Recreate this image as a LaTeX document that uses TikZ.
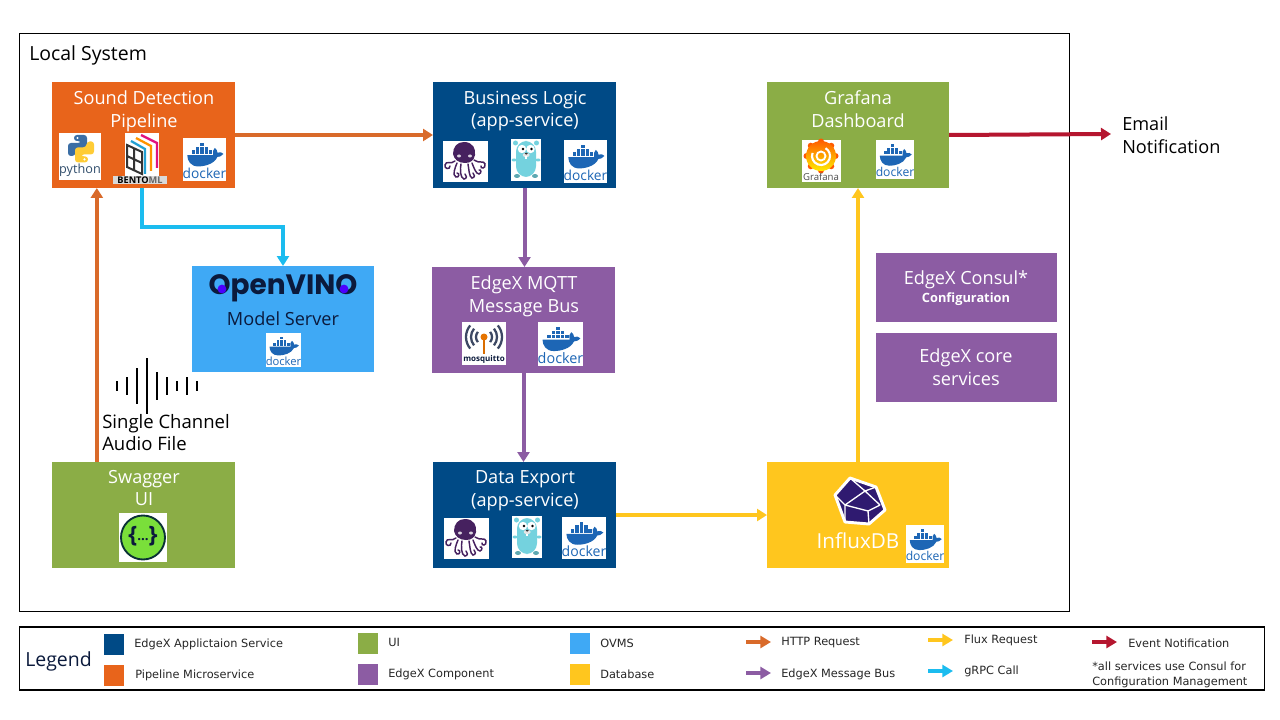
\documentclass[tikz,border=0pt]{standalone}
\usepackage{fontspec}
\setmainfont{Open Sans}
\newfontfamily\ovfont{Poppins}
\newfontfamily\legfont{DejaVu Sans}
\usetikzlibrary{arrows.meta}
\definecolor{cOrange}{HTML}{E8641B}
\definecolor{cOrangeA}{HTML}{D96A2A}
\definecolor{cNavy}{HTML}{004A86}
\definecolor{cGreen}{HTML}{8BAD46}
\definecolor{cPurple}{HTML}{8C5CA3}
\definecolor{cSky}{HTML}{3FA9F5}
\definecolor{cYellow}{HTML}{FFC61E}
\definecolor{cRed}{HTML}{B5162F}
\definecolor{cCyan}{HTML}{1BBCEF}
\definecolor{cDock}{HTML}{1D66B5}
\definecolor{cOct}{HTML}{46215F}
\definecolor{cGoph}{HTML}{74D2DE}
\definecolor{cInk}{HTML}{0B1A3C}
\definecolor{cIndigo}{HTML}{2F1A70}
\definecolor{cSwag}{HTML}{7ADF3A}
\tikzset{
  px/.style 2 args={minimum width=#1*0.75pt,minimum height=#2*0.75pt},
  box/.style={inner sep=0pt,outer sep=0pt,draw=none},
  title/.style={text=white,align=center,inner sep=0pt,font=\fontsize{13.6}{17.2}\selectfont},
  plain/.style={text=black,inner sep=0pt},
  conn/.style={line width=3pt,-{Triangle[length=7.5pt,width=9pt]}},
  legarrow/.style={line width=3.2pt,-{Triangle[length=8pt,width=9pt]}},
  legtext/.style={text=black!85,anchor=west,inner sep=0pt,font=\legfont\fontsize{8.5}{10}\selectfont},
  wave/.style={draw=black,line width=1.3pt},
  frame/.style={draw=black,line width=0.9pt,fill=white}
}
% name, x, y, w, h
\newcommand\dockerlogo[5]{%
\begin{scope}[shift={(#2,#3)},x=#4*0.0075pt,y=-#5*0.0075pt]
\fill[white] (0,0) rectangle (100,100);
\begin{scope}[yshift=7*#5*0.0075pt]
\fill[cDock] (10,47) -- (70,47) .. controls (68,40) and (70,33) .. (74,30) .. controls (78,33) and (80,37) .. (80,41) .. controls (85,39) and (91,40) .. (94,44) .. controls (89,50) and (84,51) .. (80,51) .. controls (72,68) and (50,73) .. (35,73) .. controls (18,73) and (10,60) .. (10,47) -- cycle;
\foreach \cx in {20,30,40,50,60} {\fill[cDock] (\cx,36) rectangle ++(8,8);}
\foreach \cx in {30,40,50} {\fill[cDock] (\cx,27) rectangle ++(8,8);}
\fill[cDock] (40,18) rectangle ++(8,8);
\end{scope}
\pgfmathsetmacro\dsz{#4*0.24}
\node[inner sep=0pt,text=cDock] (#1) at (50,82) {\fontsize{\dsz pt}{\dsz pt}\selectfont docker};
\end{scope}}
% x, y (box 45x41)
\newcommand\octopus[2]{%
\begin{scope}[shift={(#1,#2)}]
\fill[white] (0,0) rectangle (45,41);
\begin{scope}[draw=cOct,line width=1.1pt,line cap=round]
\fill[cOct] (21,1) .. controls (30,1) and (33,8) .. (32,14) .. controls (31,19) and (28,22) .. (22,22) .. controls (15,22) and (11,18) .. (10,13) .. controls (10,6) and (14,1) .. (21,1) -- cycle;
\draw (12,20) .. controls (8,24) and (3,19) .. (2,24) .. controls (1,28) and (7,29) .. (7,25);
\draw (14,22) .. controls (12,27) and (9,34) .. (13,36) .. controls (16,37) and (17,32) .. (14,32);
\draw (18,23) .. controls (17,28) and (17,37) .. (21,38) .. controls (24,38) and (24,34) .. (22,33);
\draw (25,23) .. controls (26,28) and (26,36) .. (29,37) .. controls (32,37) and (32,33) .. (30,32);
\draw (29,22) .. controls (31,27) and (33,33) .. (36,33) .. controls (39,32) and (38,28) .. (36,29);
\draw (31,19) .. controls (36,23) and (41,19) .. (42,23) .. controls (43,28) and (37,28) .. (38,25);
\end{scope}
\fill[white!80!cOct] (16,15) ellipse (2 and 1.5) (27,15) ellipse (2 and 1.5);
\end{scope}}
% x, y (box 30x42)
\newcommand\gopher[2]{%
\begin{scope}[shift={(#1,#2)}]
\fill[white] (0,0) rectangle (30,42);
\fill[cGoph] (4.5,4) circle (2.5) (25.5,4) circle (2.5);
\fill[cGoph!80!black] (6,37) ellipse (3 and 2) (24,37) ellipse (3 and 2);
\fill[cGoph,rounded corners=8] (5,2) rectangle (25,38);
\fill[cGoph] (3,21) ellipse (2.5 and 1.5) (27,21) ellipse (2.5 and 1.5);
\fill[white] (11,10) circle (4.2) (19.5,10) circle (4.2);
\fill[black] (12,10) circle (1.4) (20.5,10) circle (1.4);
\fill[white!90!black] (15.2,16) ellipse (3.5 and 2.2);
\fill[black!80] (15.2,14.6) ellipse (1.6 and 1);
\fill[white] (14.2,17.5) rectangle (16.4,20);
\end{scope}}
\begin{document}
\begin{tikzpicture}[x=0.75pt,y=-0.75pt,line join=miter]
\useasboundingbox (0,0) rectangle (1280,720);
\fill[white] (0,0) rectangle (1280,720);

% frames
\node[box,frame,px={1050}{578}] (local) at (544.5,322.5) {};
\node[plain,anchor=west,font=\fontsize{14.6}{18}\selectfont] (localtxt) at (29,55) {Local System};
\node[box,frame,px={1245}{63}] (legend) at (642,658.5) {};

% boxes
\node[box,fill=cOrange,px={183}{106}] (sound) at (143.5,135) {};
\node[box,fill=cNavy,px={183}{106}] (logic) at (524.5,135) {};
\node[box,fill=cGreen,px={182}{106}] (graf) at (858,135) {};
\node[box,fill=cSky,px={182}{106}] (ovms) at (283,319) {};
\node[box,fill=cPurple,px={183}{106}] (mqtt) at (523.5,320) {};
\node[box,fill=cPurple,px={181}{69}] (consul) at (966.5,287.5) {};
\node[box,fill=cPurple,px={181}{69}] (core) at (966.5,367.5) {};
\node[box,fill=cGreen,px={183}{106}] (swagger) at (143.5,515) {};
\node[box,fill=cNavy,px={183}{106}] (export) at (524.5,515) {};
\node[box,fill=cYellow,px={182}{106}] (influx) at (858,515) {};

% titles
\node[title] (t1) at (144,111) {Sound Detection\\Pipeline};
\node[title] (t2) at (525,111) {Business Logic\\(app-service)};
\node[title] (t3) at (858,109) {Grafana\\Dashboard};
\node[title] (t4) at (524,296) {EdgeX MQTT\\Message Bus};
\node[title] (t5) at (144,488) {Swagger\\UI};
\node[title] (t6) at (525,491) {Data Export\\(app-service)};
\node[title] (t7) at (966,280) {EdgeX Consul*};
\node[title,font=\fontsize{9.6}{12}\selectfont\bfseries] (t8) at (966,299) {Configuration};
\node[title] (t9) at (966,367) {EdgeX core\\services};
\node[inner sep=0pt,text=cInk,font=\fontsize{13.6}{16}\selectfont] (t10) at (283,319) {Model Server};
\node[inner sep=0pt,text=cInk,font=\ovfont\bfseries\fontsize{21}{26}\selectfont] (ovtxt) at (283,288) {OpenVINO};
\fill[blue!70!magenta] (222,289) circle (4.4) (344,289) circle (4.4);
\node[inner sep=0pt,text=white,font=\fontsize{15.5}{18}\selectfont] (ifx) at (858,541) {InfluxDB};

% connectors
\draw[conn,cOrangeA] (sound.east) -- (logic.west);
\draw[conn,cOrangeA] ([xshift=-35pt]swagger.north) -- ([xshift=-35pt]sound.south);
\draw[conn,cCyan] ([xshift=-1pt]sound.south) -- ++(0,39) -| (ovms.north);
\draw[conn,cPurple] (logic.south) -- (mqtt.north -| logic.south);
\draw[conn,cPurple] (mqtt.south) -- (export.north -| mqtt.south);
\draw[conn,cYellow] (export.east) -- (influx.west);
\draw[conn,cYellow] (influx.north) -- (graf.south);
\coordinate (emailend) at (1111,134);
\draw[conn,cRed] (graf.east) -- (emailend);

% free text
\node[plain,anchor=west,align=left,font=\fontsize{13.6}{17}\selectfont] (email) at (1122,135) {Email\\Notification};
\node[plain,anchor=west,align=left,font=\fontsize{13.9}{16.5}\selectfont] (audio) at (102,433) {Single Channel\\Audio File};
\foreach \wx/\wh in {117/5,127/9,137/18,147/28,157/14,167/9,177/5,187/9,197/5}
  {\draw[wave] (\wx,386-\wh) -- (\wx,386+\wh);}

% docker logos
\dockerlogo{d1}{183}{138}{43}{43}
\dockerlogo{d2}{564}{140}{43}{43}
\dockerlogo{d3}{876}{140}{38}{39}
\dockerlogo{d4}{266}{333}{35}{34}
\dockerlogo{d5}{538}{322}{45}{44}
\dockerlogo{d6}{562}{517}{44}{42}
\dockerlogo{d7}{906}{525}{38}{38}

\octopus{443}{141}
\octopus{444}{518}
\gopher{511}{139}
\gopher{512}{516}

% python
\fill[white] (59,133) rectangle (101,180);
\fill[cDock!70!gray,rounded corners=2.2] (74,135) -- (87,135) -- (87,150) -- (76,150) -- (75,156) -- (68,156) -- (68,143) -- (81,143) -- (81,141) -- (74,141) -- cycle;
\fill[cYellow!90!white,rounded corners=2.2,rotate around={180:(81,148.7)}] (74,135) -- (87,135) -- (87,150) -- (76,150) -- (75,156) -- (68,156) -- (68,143) -- (81,143) -- (81,141) -- (74,141) -- cycle;
\fill[white] (77.5,138) circle (1.2) (84.5,159.4) circle (1.2);
\node[inner sep=0pt,text=black!45!cDock!70!gray,font=\fontsize{9.5}{11}\selectfont] (pytxt) at (80,170) {python};

% bentoml
\fill[white] (125,133) rectangle (159,176);
\draw[magenta!75!purple,line width=1.7pt] (141,135) -- (157,143) -- (157,168);
\draw[orange!85!yellow,line width=1.7pt] (136,138) -- (151,146) -- (151,171);
\draw[cyan!70!teal,line width=1.7pt] (131,141) -- (145,149) -- (145,174);
\fill[white] (126,143) -- (143,151) -- (143,176) -- (126,170) -- cycle;
\draw[black!80,line width=1.5pt] (127,145) -- (142,152) -- (142,174) -- (127,167) -- cycle (134,148) -- (134,171) (127,156) -- (142,163);
\fill[white!85!black] (113,176) rectangle (167,184);
\node[inner sep=0pt,text=black,font=\bfseries\fontsize{6.9}{8}\selectfont] (bento) at (140,180) {BENTO\textcolor{black!60}{ML}};

% mosquitto
\fill[white] (462,322) rectangle (506,365);
\foreach \mr in {8,13,18} {
  \draw[cInk!80,line width=1.7pt] (484,337) ++(-140:\mr) arc[start angle=-140,end angle=-220,radius=\mr,y=0.75pt,x=0.75pt];
  \draw[cInk!80,line width=1.7pt] (484,337) ++(-40:\mr) arc[start angle=-40,end angle=40,radius=\mr,y=0.75pt,x=0.75pt];
}
\draw[orange!85!black,line width=0.9pt] (484,337) -- (484,354);
\fill[orange!90!black] (484,337) circle (3.5);
\node[inner sep=0pt,text=cInk,font=\bfseries\fontsize{6}{8}\selectfont] (mosq) at (484,359) {mosquitto};

% grafana
\fill[white] (802,140) rectangle (841,182);
\foreach \ga in {0,45,...,315} {\fill[orange!70!red] (821,156) ++(\ga:14.5) circle (3);}
\shade[top color=orange!75!red,bottom color=yellow!85!orange] (821,156) circle (15);
\draw[white,line width=1.6pt] (821,156) ++(200:9) arc[start angle=200,end angle=-60,radius=9,x=0.75pt,y=0.75pt];
\draw[white,line width=1.4pt] (821,156) circle (4.5);
\node[inner sep=0pt,text=black!70,font=\fontsize{7.2}{9}\selectfont] (graftxt) at (821,176.5) {Grafana};

% influx polyhedron
\fill[cIndigo,draw=white,line width=2.2pt,line join=round] (850,478) -- (876,487) -- (885,510) -- (869,524) -- (845,522) -- (835,495) -- cycle;
\draw[white,line width=1pt] (850,478) -- (865,491) -- (845,505) -- (835,495) (865,491) -- (876,487) (865,491) -- (880,505) (845,505) -- (868,511) -- (880,505) (868,511) -- (869,524) (845,505) -- (845,522);

% swagger
\fill[white] (119,513) rectangle (167,562);
\fill[cSwag,draw=cInk!90!green,line width=1.4pt] (143,537.5) circle (22);
\node[inner sep=0pt,text=cInk,font=\bfseries\fontsize{17}{20}\selectfont] (swg) at (143,536) {\{\raisebox{1pt}{\fontsize{10}{10}\selectfont...}\}};

% legend
\node[plain,anchor=west,text=cInk,font=\fontsize{14.6}{16}\selectfont] (legtitle) at (25,661) {Legend};
\foreach \lx/\ly/\lc in {104/634/cNavy,104/665/cOrange,358/633/cGreen,358/664/cPurple,570/633/cSky,570/664/cYellow}
  {\fill[\lc] (\lx,\ly) rectangle ++(20,21);}
\node[legtext] (l1) at (134,644) {EdgeX Applictaion Service};
\node[legtext] (l2) at (135,675) {Pipeline Microservice};
\node[legtext] (l3) at (388,642) {UI};
\node[legtext] (l4) at (388,674) {EdgeX Component};
\node[legtext] (l5) at (600,643) {OVMS};
\node[legtext] (l6) at (600,674) {Database};
\node[legtext] (l7) at (781,643) {HTTP Request};
\node[legtext] (l8) at (781,674) {EdgeX Message Bus};
\node[legtext] (l9) at (964,640) {Flux Request};
\node[legtext] (l10) at (964,671) {gRPC Call};
\node[legtext] (l11) at (1128,643) {Event Notification};
\node[legtext] (l12) at (1092,666) {*all services use Consul for};
\node[legtext] (l13) at (1092,682) {Configuration Management};
\coordinate (a1s) at (746,642); \coordinate (a1e) at (771,642);
\coordinate (a2s) at (746,673); \coordinate (a2e) at (771,673);
\coordinate (a3s) at (928,640); \coordinate (a3e) at (953,640);
\coordinate (a4s) at (928,671); \coordinate (a4e) at (953,671);
\coordinate (a5s) at (1092,642); \coordinate (a5e) at (1117,642);
\draw[legarrow,cOrangeA] (a1s) -- (a1e);
\draw[legarrow,cPurple] (a2s) -- (a2e);
\draw[legarrow,cYellow] (a3s) -- (a3e);
\draw[legarrow,cCyan] (a4s) -- (a4e);
\draw[legarrow,cRed] (a5s) -- (a5e);
\end{tikzpicture}
\end{document}
